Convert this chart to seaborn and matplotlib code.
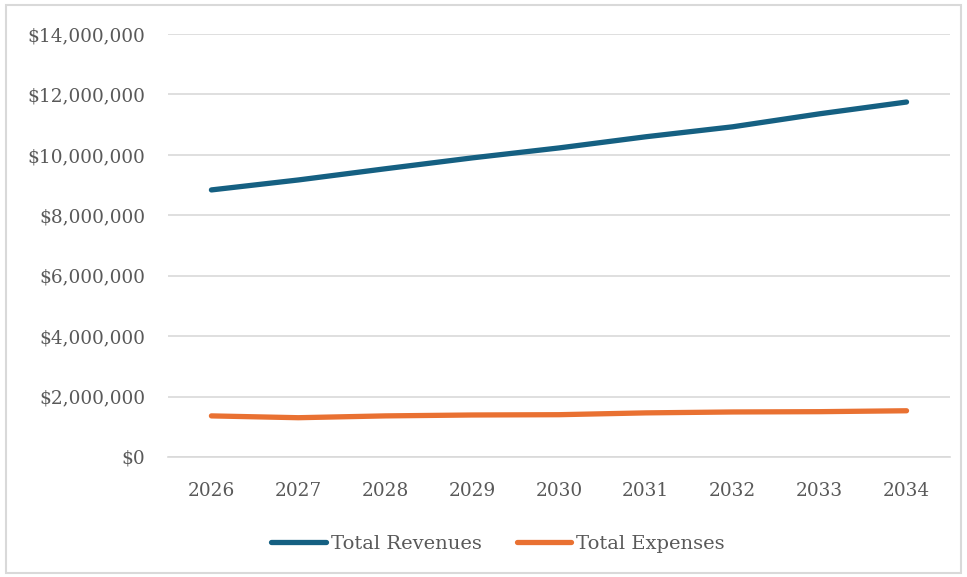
import matplotlib
matplotlib.use("Agg")
import matplotlib.pyplot as plt
import seaborn as sns
import pandas as pd
from matplotlib.patches import Rectangle
from matplotlib.ticker import FuncFormatter
from matplotlib.lines import Line2D

years = ["2026", "2027", "2028", "2029", "2030", "2031", "2032", "2033", "2034"]
revenues = [8840000, 9170000, 9540000, 9900000, 10230000, 10600000, 10930000, 11360000, 11750000]
expenses = [1360000, 1300000, 1360000, 1390000, 1400000, 1460000, 1490000, 1500000, 1530000]
series_names = ["Total Revenues", "Total Expenses"]
colors = ["#156082", "#E97132"]

df = pd.DataFrame({
    "Year": years * 2,
    "Value": revenues + expenses,
    "Series": [series_names[0]] * len(years) + [series_names[1]] * len(years),
})
df["x"] = list(range(len(years))) * 2

sns.set_style("white")
plt.rcParams["font.family"] = ["DejaVu Serif"]

fig = plt.figure(figsize=(9.67, 5.77), dpi=100)
ax = fig.add_axes([0.1737, 0.208, 0.8087, 0.733])

sns.lineplot(data=df, x="x", y="Value", hue="Series", palette=colors,
             linewidth=3.8, ax=ax, legend=False, solid_capstyle="round")

ax.set_xlim(-0.5, len(years) - 0.5)
ax.set_ylim(0, 14000000)
ax.set_yticks(range(0, 14000001, 2000000))
ax.yaxis.set_major_formatter(FuncFormatter(lambda v, p: f"${v:,.0f}"))
ax.set_xticks(range(len(years)))
ax.set_xticklabels(years)
ax.grid(axis="y", color="#D9D9D9", linewidth=1.2)
ax.set_axisbelow(True)
for s in ax.spines.values():
    s.set_visible(False)
ax.spines["bottom"].set_visible(True)
ax.spines["bottom"].set_color("#D9D9D9")
ax.spines["bottom"].set_linewidth(1.2)
ax.tick_params(axis="both", length=0, labelsize=13.3, labelcolor="#595959")
ax.tick_params(axis="y", pad=16.5)
ax.tick_params(axis="x", pad=18)
ax.set_xlabel("")
ax.set_ylabel("")

handles = [Line2D([0], [0], color=c, lw=3.8, solid_capstyle="round") for c in colors]
leg = fig.legend(handles, series_names, loc="center", bbox_to_anchor=(0.515, 0.058),
                 ncol=2, frameon=False, fontsize=14, handlelength=2.8,
                 handletextpad=0.25, columnspacing=1.8)
for t in leg.get_texts():
    t.set_color("#595959")

fig.patches.append(Rectangle((0.006, 0.007), 0.988, 0.985, transform=fig.transFigure,
                             fill=False, edgecolor="#D9D9D9", linewidth=1.5))

fig.savefig("out.png", dpi=100)
